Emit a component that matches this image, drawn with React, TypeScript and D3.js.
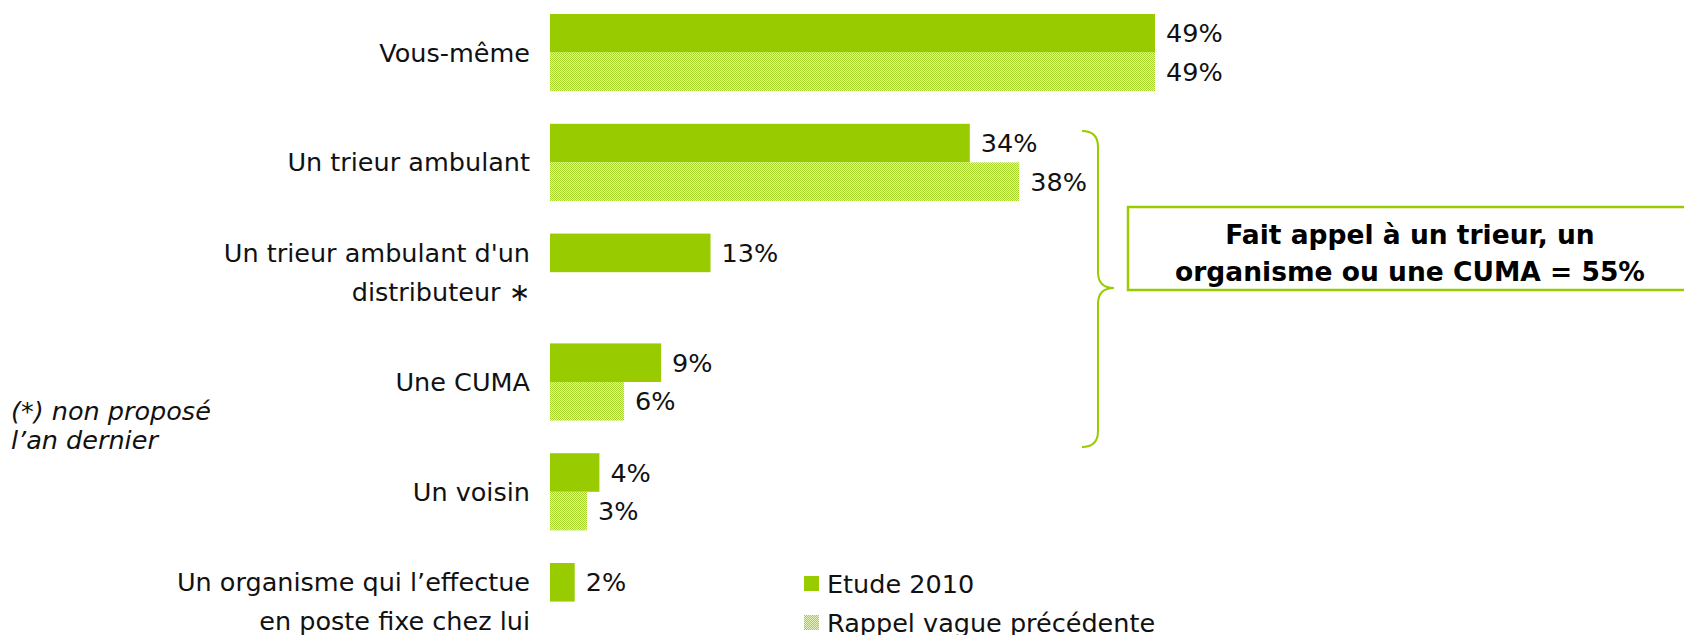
import * as d3 from 'd3';

const CATEGORIES = [
  'Vous-même',
  'Un trieur ambulant',
  "Un trieur ambulant d'un|distributeur ∗",
  'Une CUMA',
  'Un voisin',
  'Un organisme qui l’effectue|en poste fixe chez lui',
];
const SERIES = ['Etude 2010', 'Rappel vague précédente'];
const ETUDE_2010 = [49, 34, 13, 9, 4, 2];
const RAPPEL = [49, 38, null, 6, 3, null];
const BRACKET_TEXT = ['Fait appel à un trieur, un', 'organisme ou une CUMA = 55%'];
const FOOTNOTE = ['(*) non proposé', 'l’an dernier'];

const W = 1684;
const H = 635;
const GREEN = '#99cc00';
const FONT = '"DejaVu Sans", Verdana, sans-serif';
const FS = 25.5;

export default function App() {
  const x = d3.scaleLinear().domain([0, 49]).range([550, 1155]);
  const y = d3.scaleBand().domain(CATEGORIES).range([14, 14 + 6 * 109.8]);
  const inner = d3.scaleBand().domain(SERIES).range([0, 77.2]);
  const bh = inner.bandwidth();

  const bars = CATEGORIES.flatMap((c, i) => [
    { cat: c, s: SERIES[0], v: ETUDE_2010[i] },
    { cat: c, s: SERIES[1], v: RAPPEL[i] },
  ]).filter(d => d.v !== null) as { cat: string; s: string; v: number }[];

  // curly brace spanning trieur .. CUMA
  const bx = 1082, top = 131, bot = 447, mid = 288, vx = 1098, tip = 1114;
  const brace = d3.path();
  brace.moveTo(bx, top);
  brace.quadraticCurveTo(vx, top, vx, top + 16);
  brace.lineTo(vx, mid - 16);
  brace.quadraticCurveTo(vx, mid, tip, mid);
  brace.quadraticCurveTo(vx, mid, vx, mid + 16);
  brace.lineTo(vx, bot - 16);
  brace.quadraticCurveTo(vx, bot, bx, bot);

  return (
    <svg width={W} height={H} style={{ position: 'absolute', left: 0, top: 0, display: 'block' }} fontFamily={FONT}>
      <defs>
        <pattern id="hatch" width={2} height={2} patternUnits="userSpaceOnUse">
          <rect width={2} height={2} fill="#e6f3c0" />
          <rect width={1} height={1} fill="#a6d428" />
          <rect x={1} y={1} width={1} height={1} fill="#a6d428" />
        </pattern>
      </defs>
      <rect width={W} height={H} fill="#fff" />

      {bars.map(d => {
        const yy = (y(d.cat) ?? 0) + (inner(d.s) ?? 0);
        return (
          <g key={d.cat + d.s}>
            <rect x={x(0)} y={yy} width={x(d.v) - x(0)} height={bh}
              fill={d.s === SERIES[0] ? GREEN : 'url(#hatch)'} />
            <text x={x(d.v) + 11} y={yy + bh / 2} dominantBaseline="central" fontSize={FS} fill="#111">
              {d.v}%
            </text>
          </g>
        );
      })}

      {CATEGORIES.map(c => {
        const lines = c.split('|');
        const cy = (y(c) ?? 0) + bh;
        return (
          <text key={c} x={530} textAnchor="end" fontSize={FS} fill="#111">
            {lines.map((l, j) => (
              <tspan key={j} x={530} y={cy + (j - (lines.length - 1) / 2) * 38.6} dominantBaseline="central">{l}</tspan>
            ))}
          </text>
        );
      })}

      {FOOTNOTE.map((t, j) => (
        <text key={t} x={11} y={411 + j * 29} dominantBaseline="central" fontSize={FS} fontStyle="italic" fill="#111">{t}</text>
      ))}

      <path d={brace.toString()} fill="none" stroke={GREEN} strokeWidth={2} />
      <rect x={1128} y={207} width={570} height={83} fill="none" stroke={GREEN} strokeWidth={2.5} />
      {BRACKET_TEXT.map((t, j) => (
        <text key={t} x={1410} y={234 + j * 37} textAnchor="middle" dominantBaseline="central"
          fontSize={26.5} fontWeight="bold" fill="#000">{t}</text>
      ))}

      {SERIES.map((s, j) => (
        <g key={s} transform={`translate(804, ${576 + j * 39})`}>
          <rect width={15} height={15} fill={j === 0 ? GREEN : 'url(#hatch)'} />
          <text x={23} y={8} dominantBaseline="central" fontSize={FS} fill="#111">{s}</text>
        </g>
      ))}
    </svg>
  );
}
